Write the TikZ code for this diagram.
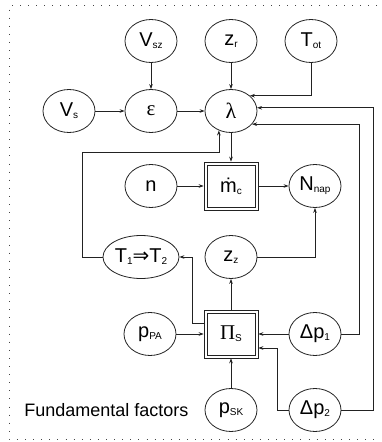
\documentclass[tikz,border=0pt]{standalone}
\usepackage{fontspec}
\setmainfont{Liberation Sans}
\newfontfamily\greekfn{Liberation Serif}
\newfontfamily\arrowfn{DejaVu Sans}
\usetikzlibrary{arrows.meta,positioning,shapes.geometric}
\definecolor{Ink}{HTML}{222222}
\definecolor{Dots}{HTML}{444444}
\newcommand{\lowsub}[1]{\raisebox{-2pt}{\fontsize{10}{10}\selectfont #1}}

\begin{document}
\begin{tikzpicture}[on grid,node distance=75pt and 80pt,>={Stealth[length=5pt,width=3.6pt]},
  var/.style={ellipse,draw=Ink,line width=0.8pt,minimum width=52pt,minimum height=43pt,inner sep=0pt,font=\fontsize{20}{20}\selectfont},
  block/.style={draw=Ink,line width=0.7pt,minimum width=54pt,minimum height=48pt,font=\fontsize{20}{20}\selectfont,
    path picture={\draw[Ink,line width=0.7pt] ([shift={(3pt,3pt)}]path picture bounding box.south west) rectangle ([shift={(-3pt,-3pt)}]path picture bounding box.north east);}},
  link/.style={->,draw=Ink,line width=0.7pt}]
  \useasboundingbox (-231pt,111pt) rectangle (150pt,-331pt);
  \draw[Dots,line width=0.9pt,dash pattern=on 0.9pt off 7.2pt] (146pt,106pt) -- (-222pt,106pt) -- (-222pt,-328pt) -- (146pt,-328pt);

  % top rows
  \node[var] (lam) at (0,0) {\fontsize{22}{22}\greekfn λ};
  \node[var,left=of lam] (eps) {\fontsize{21}{21}\greekfn ε};
  \node[var,left=82pt of eps] (vs) {V\lowsub{s}};
  \node[var,above=70pt of lam] (zr) {z\lowsub{r}};
  \node[var,above=70pt of eps] (vsz) {V\lowsub{sz}};
  \node[var,right=of zr] (tot) {T\lowsub{ot}};
  % mass flow row
  \node[block,below=of lam] (mc) {ṁ\lowsub{c}};
  \node[var,left=of mc] (n) {n};
  \node[var,right=84pt of mc] (nnap) {N\lowsub{nap}};
  \node[var,below=71pt of mc] (zz) {z\lowsub{z}};
  \node[var,minimum width=76pt,left=90pt of zz] (t12) {T\lowsub{1}{\arrowfn ⇒}T\lowsub{2}};
  % pressure row
  \node[block,below=77pt of zz] (pis) {{\fontsize{21}{21}\greekfn Π}\lowsub{S}};
  \node[var,left=81pt of pis] (ppa) {p\lowsub{PA}};
  \node[var,right=84pt of pis] (dp1) {Δp\lowsub{1}};
  \node[var,below=76pt of pis] (psk) {p\lowsub{SK}};
  \node[var,right=84pt of psk] (dp2) {Δp\lowsub{2}};
  \node[font=\fontsize{18}{18}\selectfont,left=39pt of psk,anchor=east] (ff) {Fundamental factors};

  \draw[link] (vsz) -- (eps);
  \draw[link] (zr) -- (lam);
  \draw[link] (tot.south) |- (lam.39);
  \draw[link] (vs) -- (eps);
  \draw[link] (eps) -- (lam);
  \draw[link] (dp2.east) -- ++(32pt,0) |- (lam.7);
  \draw[link] (dp1.east) -- ++(18pt,0) |- (lam.-32);
  \draw[link] (lam) -- (mc);
  \draw[link] (t12.west) -- ++(-20pt,0) |- ([yshift=-22pt]lam.-122) -- (lam.-122);
  \draw[link] (n) -- (mc);
  \draw[link] (mc) -- (nnap);
  \draw[link] (zz.east) -| (nnap.south);
  \draw[link] ([yshift=11pt]pis.west) -- ++(-11pt,0) |- (t12.east);
  \draw[link] (pis) -- (zz);
  \draw[link] (ppa) -- (pis);
  \draw[link] (dp1) -- (pis);
  \draw[link] (dp2.west) -- ++(-11pt,0) |- ([yshift=-14pt]pis.east);
  \draw[link] (psk) -- (pis);
\end{tikzpicture}
\end{document}
